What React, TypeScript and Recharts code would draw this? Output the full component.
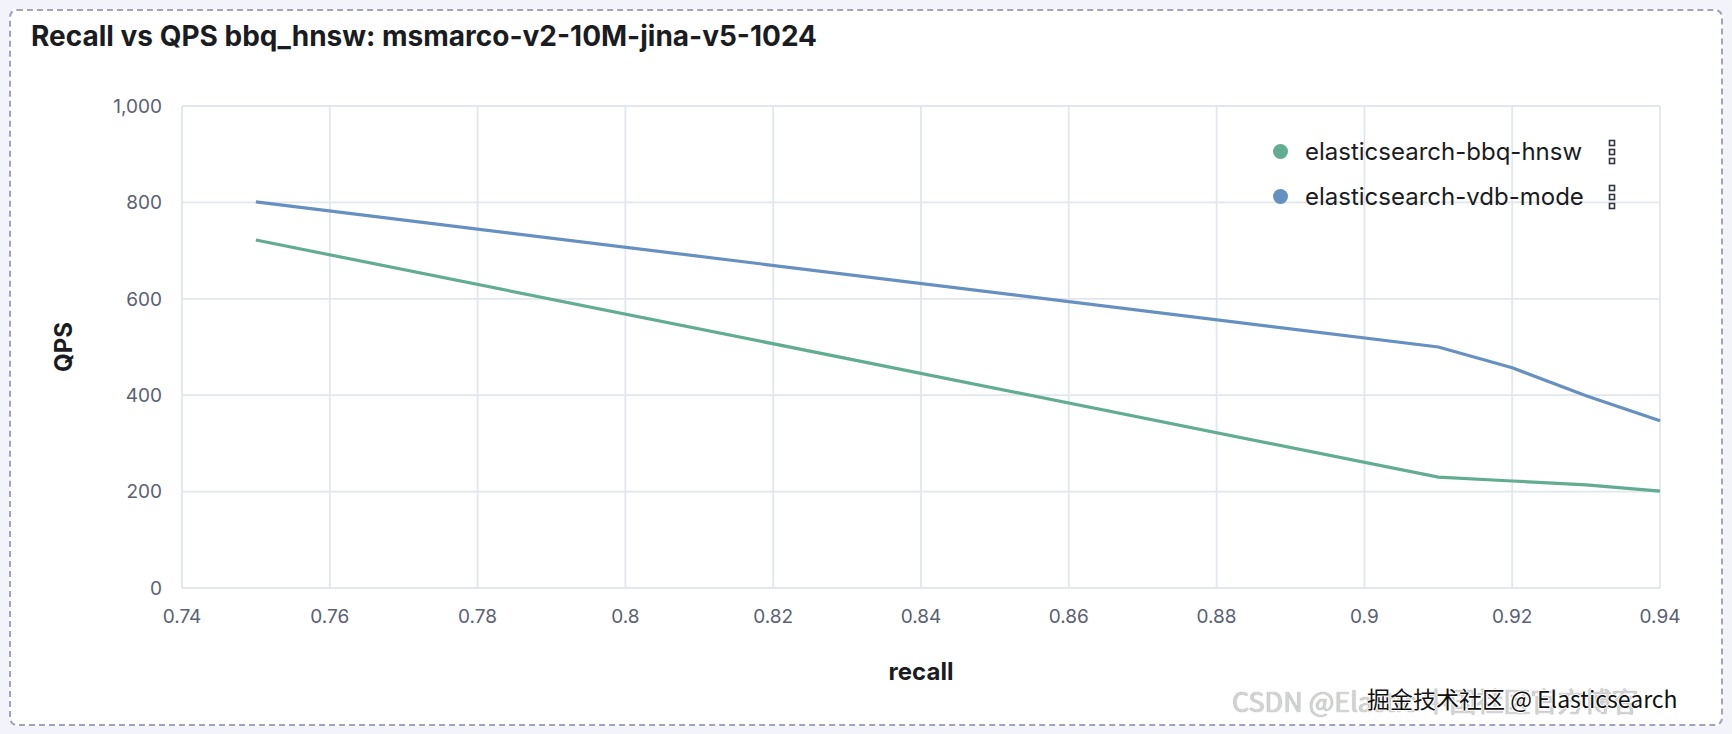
import { LineChart, Line, XAxis, YAxis, CartesianGrid, Legend } from 'recharts';

// recall (x) shared by both runs
const recall = [0.75, 0.91, 0.92, 0.93, 0.94];
const qpsBbqHnsw = [722, 230, 222, 214, 201];
const qpsVdbMode = [801, 500, 457, 399, 347];

const xTicks = [0.74, 0.76, 0.78, 0.8, 0.82, 0.84, 0.86, 0.88, 0.9, 0.92, 0.94];
const yTicks = [0, 200, 400, 600, 800, 1000];

const seriesNames = ['elasticsearch-bbq-hnsw', 'elasticsearch-vdb-mode'];
const seriesColors = ['#62AD91', '#6690BF'];

const data = recall.map((r, i) => ({
  recall: r,
  bbq: qpsBbqHnsw[i],
  vdb: qpsVdbMode[i],
}));

const FONT = 'Inter, "Noto Sans", sans-serif';
const TICK = { fill: '#5a6075', fontSize: 19, fontFamily: FONT };

const DragIcon = () => (
  <svg width={10} height={26} style={{ display: 'block' }}>
    <rect x={2.5} y={1.5} width={5} height={5} fill="none" stroke="#343741" strokeWidth={1.6} />
    <rect x={2.5} y={10.5} width={5} height={5} fill="none" stroke="#343741" strokeWidth={1.6} />
    <rect x={2.5} y={19.5} width={5} height={5} fill="none" stroke="#343741" strokeWidth={1.6} />
  </svg>
);

const renderLegend = (props: any) => {
  const { payload } = props;
  return (
    <div style={{ fontFamily: FONT }}>
      {(payload || []).map((entry: any) => (
        <div key={entry.value} style={{ display: 'flex', alignItems: 'center', height: 45 }}>
          <span
            style={{
              width: 15,
              height: 15,
              borderRadius: '50%',
              background: entry.color,
              marginRight: 17,
              flex: 'none',
            }}
          />
          <span style={{ width: 302, fontSize: 24, color: '#1a1c21', whiteSpace: 'nowrap' }}>{entry.value}</span>
          <DragIcon />
        </div>
      ))}
    </div>
  );
};

export default function App() {
  return (
    <div
      style={{
        position: 'absolute',
        left: 0,
        top: 0,
        width: 1732,
        height: 734,
        background: '#f2f4f9',
        overflow: 'hidden',
        fontFamily: FONT,
      }}
    >
      <div
        style={{
          position: 'absolute',
          left: 9,
          top: 9,
          width: 1710,
          height: 713,
          border: '2px dashed #9fa2c2',
          borderRadius: 8,
          background: '#fff',
        }}
      />
      <div
        style={{
          position: 'absolute',
          left: 31,
          top: 19,
          fontSize: 28,
          fontWeight: 700,
          color: '#1a1c21',
          whiteSpace: 'nowrap',
        }}
      >
        Recall vs QPS bbq_hnsw: msmarco-v2-10M-jina-v5-1024
      </div>
      <div style={{ position: 'absolute', left: 0, top: 0 }}>
        <LineChart width={1732} height={734} data={data} margin={{ top: 106, right: 72, left: 50, bottom: 46 }}>
          <CartesianGrid stroke="#e2e7ee" strokeWidth={1.8} />
          <XAxis
            type="number"
            dataKey="recall"
            domain={[0.74, 0.94]}
            ticks={xTicks}
            tickFormatter={(v: number) => String(v)}
            axisLine={false}
            tickLine={false}
            tickSize={0}
            tickMargin={22}
            height={100}
            tick={TICK}
            label={{
              value: 'recall',
              position: 'insideBottom',
              offset: 8,
              style: { fill: '#1a1c21', fontSize: 24, fontWeight: 700, fontFamily: FONT },
            }}
          />
          <YAxis
            type="number"
            domain={[0, 1000]}
            ticks={yTicks}
            tickFormatter={(v: number) => v.toLocaleString('en-US')}
            axisLine={false}
            tickLine={false}
            tickSize={0}
            tickMargin={20}
            width={132}
            tick={TICK}
            label={{
              value: 'QPS',
              angle: -90,
              position: 'insideLeft',
              offset: 13,
              style: { fill: '#1a1c21', fontSize: 24, fontWeight: 700, fontFamily: FONT, textAnchor: 'middle' },
            }}
          />
          <Legend
            layout="horizontal"
            verticalAlign="middle"
            align="center"
            wrapperStyle={{ top: 129, left: 1273, width: 420 }}
            content={renderLegend}
          />
          <Line
            type="linear"
            dataKey="bbq"
            name={seriesNames[0]}
            stroke={seriesColors[0]}
            strokeWidth={3.2}
            dot={false}
            activeDot={false}
            isAnimationActive={false}
          />
          <Line
            type="linear"
            dataKey="vdb"
            name={seriesNames[1]}
            stroke={seriesColors[1]}
            strokeWidth={3.2}
            dot={false}
            activeDot={false}
            isAnimationActive={false}
          />
        </LineChart>
      </div>
      {/* image watermarks */}
      <div
        style={{
          position: 'absolute',
          left: 1232,
          top: 681,
          fontSize: 27,
          fontFamily: '"Noto Sans CJK SC", "Noto Sans", sans-serif',
          color: '#d4d4d4',
          whiteSpace: 'nowrap',
          textShadow: '0 0 1px #8f8f8f',
        }}
      >
        CSDN @Elastic 中国社区官方博客
      </div>
      <div
        style={{
          position: 'absolute',
          left: 1367,
          top: 681,
          fontSize: 23,
          fontFamily: '"Noto Sans CJK SC", "Noto Sans", sans-serif',
          color: '#111',
          whiteSpace: 'nowrap',
          textShadow: '1px 0 #fff, -1px 0 #fff, 0 1px #fff, 0 -1px #fff',
        }}
      >
        掘金技术社区 @ Elasticsearch
      </div>
    </div>
  );
}
